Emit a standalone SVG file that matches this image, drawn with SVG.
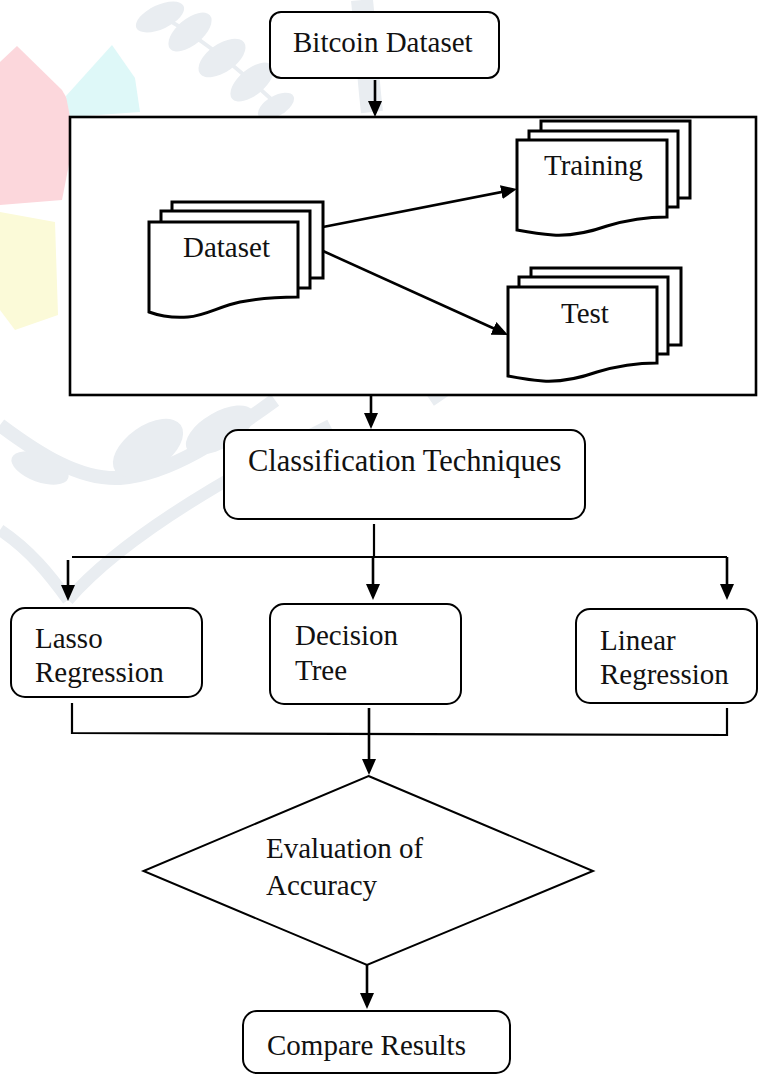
<svg xmlns="http://www.w3.org/2000/svg" width="758" height="1075" viewBox="0 0 758 1075">
  <style>
    .box { fill: #fff; stroke: #000; stroke-width: 2; }
    .frame { fill: #fff; stroke: #000; stroke-width: 2.6; }
    .doc { fill: #fff; stroke: #000; stroke-width: 3; stroke-linejoin: miter; }
    .lbl { font-family: "Liberation Serif", "Times New Roman", serif; font-size: 29px; fill: #111; }
    .wire { fill: none; stroke: #000; stroke-width: 2.2; }
    .arrow { fill: none; stroke: #000; stroke-width: 2.6; marker-end: url(#head); }
    .wm { stroke: none; }
    .leaf { fill: #e9edf1; stroke: none; }
    .stem { fill: none; stroke: #e9edf1; }
  </style>
  <defs>
    <marker id="head" viewBox="0 0 16 14" refX="12" refY="7" markerWidth="16" markerHeight="14" markerUnits="userSpaceOnUse" orient="auto">
      <path d="M0,0 L16,7 L0,14 Z" fill="#000"/>
    </marker>
  </defs>

  <rect width="758" height="1075" fill="#fff"/>

  <!-- faint background artwork -->
  <g id="background">
    <path class="wm" fill="#fcd7dc" d="M0,62 L17,46 L62,90 L78,118 L62,200 L0,205 Z"/>
    <path class="wm" fill="#def8f8" d="M112,45 L135,78 L140,112 L70,117 L66,96 Z"/>
    <path class="wm" fill="#fbfad8" d="M0,212 L55,222 L58,315 L15,330 L0,310 Z"/>
    <!-- leaf sprig, top -->
    <path class="stem" stroke-width="4" d="M150,10 C190,30 230,60 285,112"/>
    <ellipse class="leaf" cx="160" cy="17" rx="26" ry="12" transform="rotate(-25 160 17)"/>
    <ellipse class="leaf" cx="190" cy="32" rx="26" ry="13" transform="rotate(-40 190 32)"/>
    <ellipse class="leaf" cx="222" cy="58" rx="27" ry="14" transform="rotate(-35 222 58)"/>
    <ellipse class="leaf" cx="252" cy="82" rx="26" ry="13" transform="rotate(-40 252 82)"/>
    <ellipse class="leaf" cx="276" cy="106" rx="20" ry="10" transform="rotate(-30 276 106)"/>
    <path class="stem" stroke-width="22" d="M362,0 C366,40 368,80 372,112"/>
    <!-- leaf sprig, left middle -->
    <path class="stem" stroke-width="14" d="M0,425 C40,455 80,480 120,478 C170,474 220,440 275,400"/>
    <ellipse class="leaf" cx="148" cy="448" rx="40" ry="22" transform="rotate(-35 148 448)"/>
    <ellipse class="leaf" cx="220" cy="430" rx="38" ry="18" transform="rotate(-30 220 430)"/>
    <ellipse class="leaf" cx="40" cy="468" rx="30" ry="14" transform="rotate(20 40 468)"/>
    <path class="stem" stroke-width="12" d="M68,600 C120,540 220,480 330,425"/>
    <path class="stem" stroke-width="12" d="M0,530 C30,550 50,575 68,600"/>
    <path class="stem" stroke-width="14" d="M430,400 C460,380 500,350 525,335"/>
  </g>

  <!-- outer frame around the data split -->
  <g id="split-frame">
    <rect class="frame" x="70" y="117" width="686" height="278"/>
  </g>

  <g id="bitcoin-dataset">
    <rect class="box" x="270" y="12" width="229" height="66" rx="11"/>
    <text class="lbl" x="293" y="52">Bitcoin Dataset</text>
  </g>

  <g id="dataset">
    <rect class="doc" x="172" y="202" width="151" height="76"/>
    <rect class="doc" x="161" y="211" width="149" height="77"/>
    <path class="doc" d="M149,222 H298 V297 C280,297 260,298 240,302 C220,306 205,316 188,317 C175,318 160,316 149,312 Z"/>
    <text class="lbl" x="183" y="257">Dataset</text>
  </g>

  <g id="training">
    <rect class="doc" x="541" y="121" width="149" height="77"/>
    <rect class="doc" x="529" y="131" width="149" height="76"/>
    <path class="doc" d="M517,140 H667 V217 C647,217 627,220 607,226 C590,232 570,236 553,235 C540,234 528,232 517,230 Z"/>
    <text class="lbl" x="544" y="175">Training</text>
  </g>

  <g id="test">
    <rect class="doc" x="531" y="268" width="150" height="77"/>
    <rect class="doc" x="519" y="277" width="149" height="77"/>
    <path class="doc" d="M508,287 H657 V363 C637,363 617,366 597,372 C580,378 560,382 543,381 C530,380 518,378 508,376 Z"/>
    <text class="lbl" x="561" y="323">Test</text>
  </g>

  <g id="classification">
    <rect class="box" x="224" y="430" width="361" height="89" rx="14"/>
    <text class="lbl" x="248" y="471" style="font-size:30.5px">Classification Techniques</text>
  </g>

  <g id="lasso">
    <rect class="box" x="11" y="608" width="191" height="89" rx="14"/>
    <text class="lbl" x="35" y="648">Lasso</text>
    <text class="lbl" x="35" y="682">Regression</text>
  </g>

  <g id="decision-tree">
    <rect class="box" x="270" y="604" width="191" height="100" rx="14"/>
    <text class="lbl" x="295" y="645">Decision</text>
    <text class="lbl" x="295" y="680">Tree</text>
  </g>

  <g id="linear">
    <rect class="box" x="576" y="609" width="181" height="94" rx="14"/>
    <text class="lbl" x="600" y="650">Linear</text>
    <text class="lbl" x="600" y="684">Regression</text>
  </g>

  <g id="evaluation">
    <path class="box" d="M368.5,776 L593,871 L367,965 L143.5,871 Z"/>
    <text class="lbl" x="266" y="858">Evaluation of</text>
    <text class="lbl" x="266" y="895">Accuracy</text>
  </g>

  <g id="compare">
    <rect class="box" x="243" y="1011" width="267" height="62" rx="14"/>
    <text class="lbl" x="267" y="1055">Compare Results</text>
  </g>

  <!-- connectors -->
  <g id="connectors">
    <line class="arrow" x1="375" y1="80" x2="375" y2="113"/>
    <line class="arrow" x1="323" y1="227" x2="513.1" y2="189.8"/>
    <line class="arrow" x1="323" y1="251" x2="504.4" y2="333.3"/>
    <line class="arrow" x1="371" y1="395" x2="371" y2="425"/>
    <line class="wire" x1="374" y1="524" x2="374" y2="557"/>
    <line class="wire" x1="72" y1="557" x2="727" y2="557"/>
    <line class="arrow" x1="68" y1="560" x2="68" y2="597"/>
    <line class="arrow" x1="373" y1="557" x2="373" y2="596"/>
    <line class="arrow" x1="727" y1="557" x2="727" y2="596"/>
    <path class="wire" d="M72,703 V733 L727,735 V708"/>
    <line class="arrow" x1="369" y1="708" x2="369" y2="771"/>
    <line class="arrow" x1="367" y1="965" x2="367" y2="1005"/>
  </g>
</svg>
